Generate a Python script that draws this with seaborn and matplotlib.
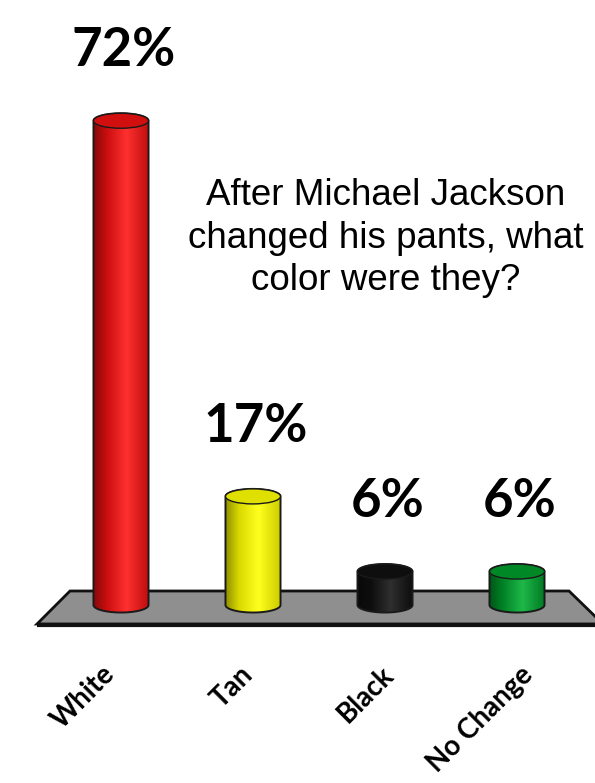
import numpy as np
import pandas as pd
import matplotlib
matplotlib.use("Agg")
import matplotlib.pyplot as plt
import seaborn as sns
from matplotlib.colors import LinearSegmentedColormap, to_rgb
from matplotlib.patches import PathPatch, Ellipse, Polygon, Rectangle
from matplotlib.path import Path

answers = ["White", "Tan", "Black", "No Change"]
percents = [72, 17, 6, 6]
bar_colors = ["#ee1111", "#ffff00", "#101010", "#00992b"]
question = "After Michael Jackson\nchanged his pants, what\ncolor were they?"

sns.set_theme(style="white")
plt.rcParams["font.family"] = ["Liberation Sans", "DejaVu Sans"]

W, H = 595, 783
fig = plt.figure(figsize=(W / 100, H / 100), dpi=100)
ax = fig.add_axes([0, 0, 1, 1])

df = pd.DataFrame({"answer": answers, "pct": percents})
sns.barplot(data=df, x="answer", y="pct", hue="answer", palette=bar_colors,
            width=0.417, errorbar=None, legend=False, ax=ax)
bars = sorted([p for p in ax.patches if isinstance(p, Rectangle)],
              key=lambda p: p.get_x())

# pixel based layout: base of bars at y=605px, 6.83px per percent
px_per = 6.83
ymin, ymax = -(H - 605) / px_per, 605 / px_per
xmin, xmax = -121 / 132, (W - 121) / 132

# grey floor (axes fraction coords)
floor_px = [(70, 591), (569, 591), (603, 624), (37, 624)]
floor = Polygon([(x / W, 1 - y / H) for x, y in floor_px], closed=True,
                transform=ax.transAxes, facecolor="#8f8f8f", edgecolor="#111111",
                lw=2, zorder=0.5)
ax.add_patch(floor)
ax.plot([37 / W, 1], [1 - 625 / H, 1 - 625 / H], transform=ax.transAxes,
        color="#111111", lw=3, zorder=0.6, solid_capstyle="butt")

eh = 1.1  # half height of the ellipses in data units


def cyl_cmap(c):
    base = np.array(to_rgb(c))
    dark = base * 0.55
    light = np.minimum(base + 0.12, 1)
    return LinearSegmentedColormap.from_list(
        "cyl", [(0, dark), (0.25, base * 0.85), (0.6, light), (1, base * 0.8)])


for p, col, v in zip(bars, bar_colors, percents):
    x0, w = p.get_x(), p.get_width()
    top = p.get_height() - eh
    p.set_visible(False)
    cx, a = x0 + w / 2, w / 2
    t = np.linspace(np.pi, 2 * np.pi, 60)
    bottom_arc = np.column_stack([cx + a * np.cos(t), 0 + eh * np.sin(t)])
    t2 = np.linspace(0, np.pi, 60)
    top_arc = np.column_stack([cx + a * np.cos(t2), top + eh * np.sin(t2)])
    verts = np.vstack([[[x0, top]], bottom_arc, [[x0 + w, top]], top_arc])
    body = PathPatch(Path(verts, closed=False), facecolor="none",
                     edgecolor="#1a1a1a", lw=1.4, zorder=3)
    ax.add_patch(body)
    grad = np.linspace(0, 1, 256).reshape(1, -1)
    im = ax.imshow(grad, extent=(x0, x0 + w, -eh, top + eh), aspect="auto",
                   cmap=cyl_cmap(col), zorder=2, interpolation="bilinear")
    im.set_clip_path(body)
    cap = Ellipse((cx, top), w, 2 * eh, facecolor=np.array(to_rgb(col)) * 0.88,
                  edgecolor="#1a1a1a", lw=1.0, zorder=4)
    ax.add_patch(cap)
    ax.annotate(f"{v}%", xy=(cx, p.get_height()), xytext=(2, 34),
                textcoords="offset points", ha="center", va="baseline",
                fontsize=38, fontweight="bold", family=["Lato", "DejaVu Sans"],
                color="black")

# horizontal nudges (px) of the rotated category labels
label_dx = [-10, -4, 5, 12]
for i, name in enumerate(answers):
    ax.annotate(name, xy=(i, 0), xytext=(label_dx[i] * 0.72, -47),
                textcoords="offset points",
                rotation=45, ha="right", va="center", rotation_mode="anchor",
                fontsize=20, fontweight="bold", family=["Lato", "DejaVu Sans"],
                color="black")

ax.text(386 / W, 1 - 238 / H, question, transform=ax.transAxes, ha="center",
        va="center", fontsize=26.5, linespacing=1.28, color="black")

ax.set_xlim(xmin, xmax)
ax.set_ylim(ymin, ymax)
ax.axis("off")

fig.savefig("out.png", dpi=100)
